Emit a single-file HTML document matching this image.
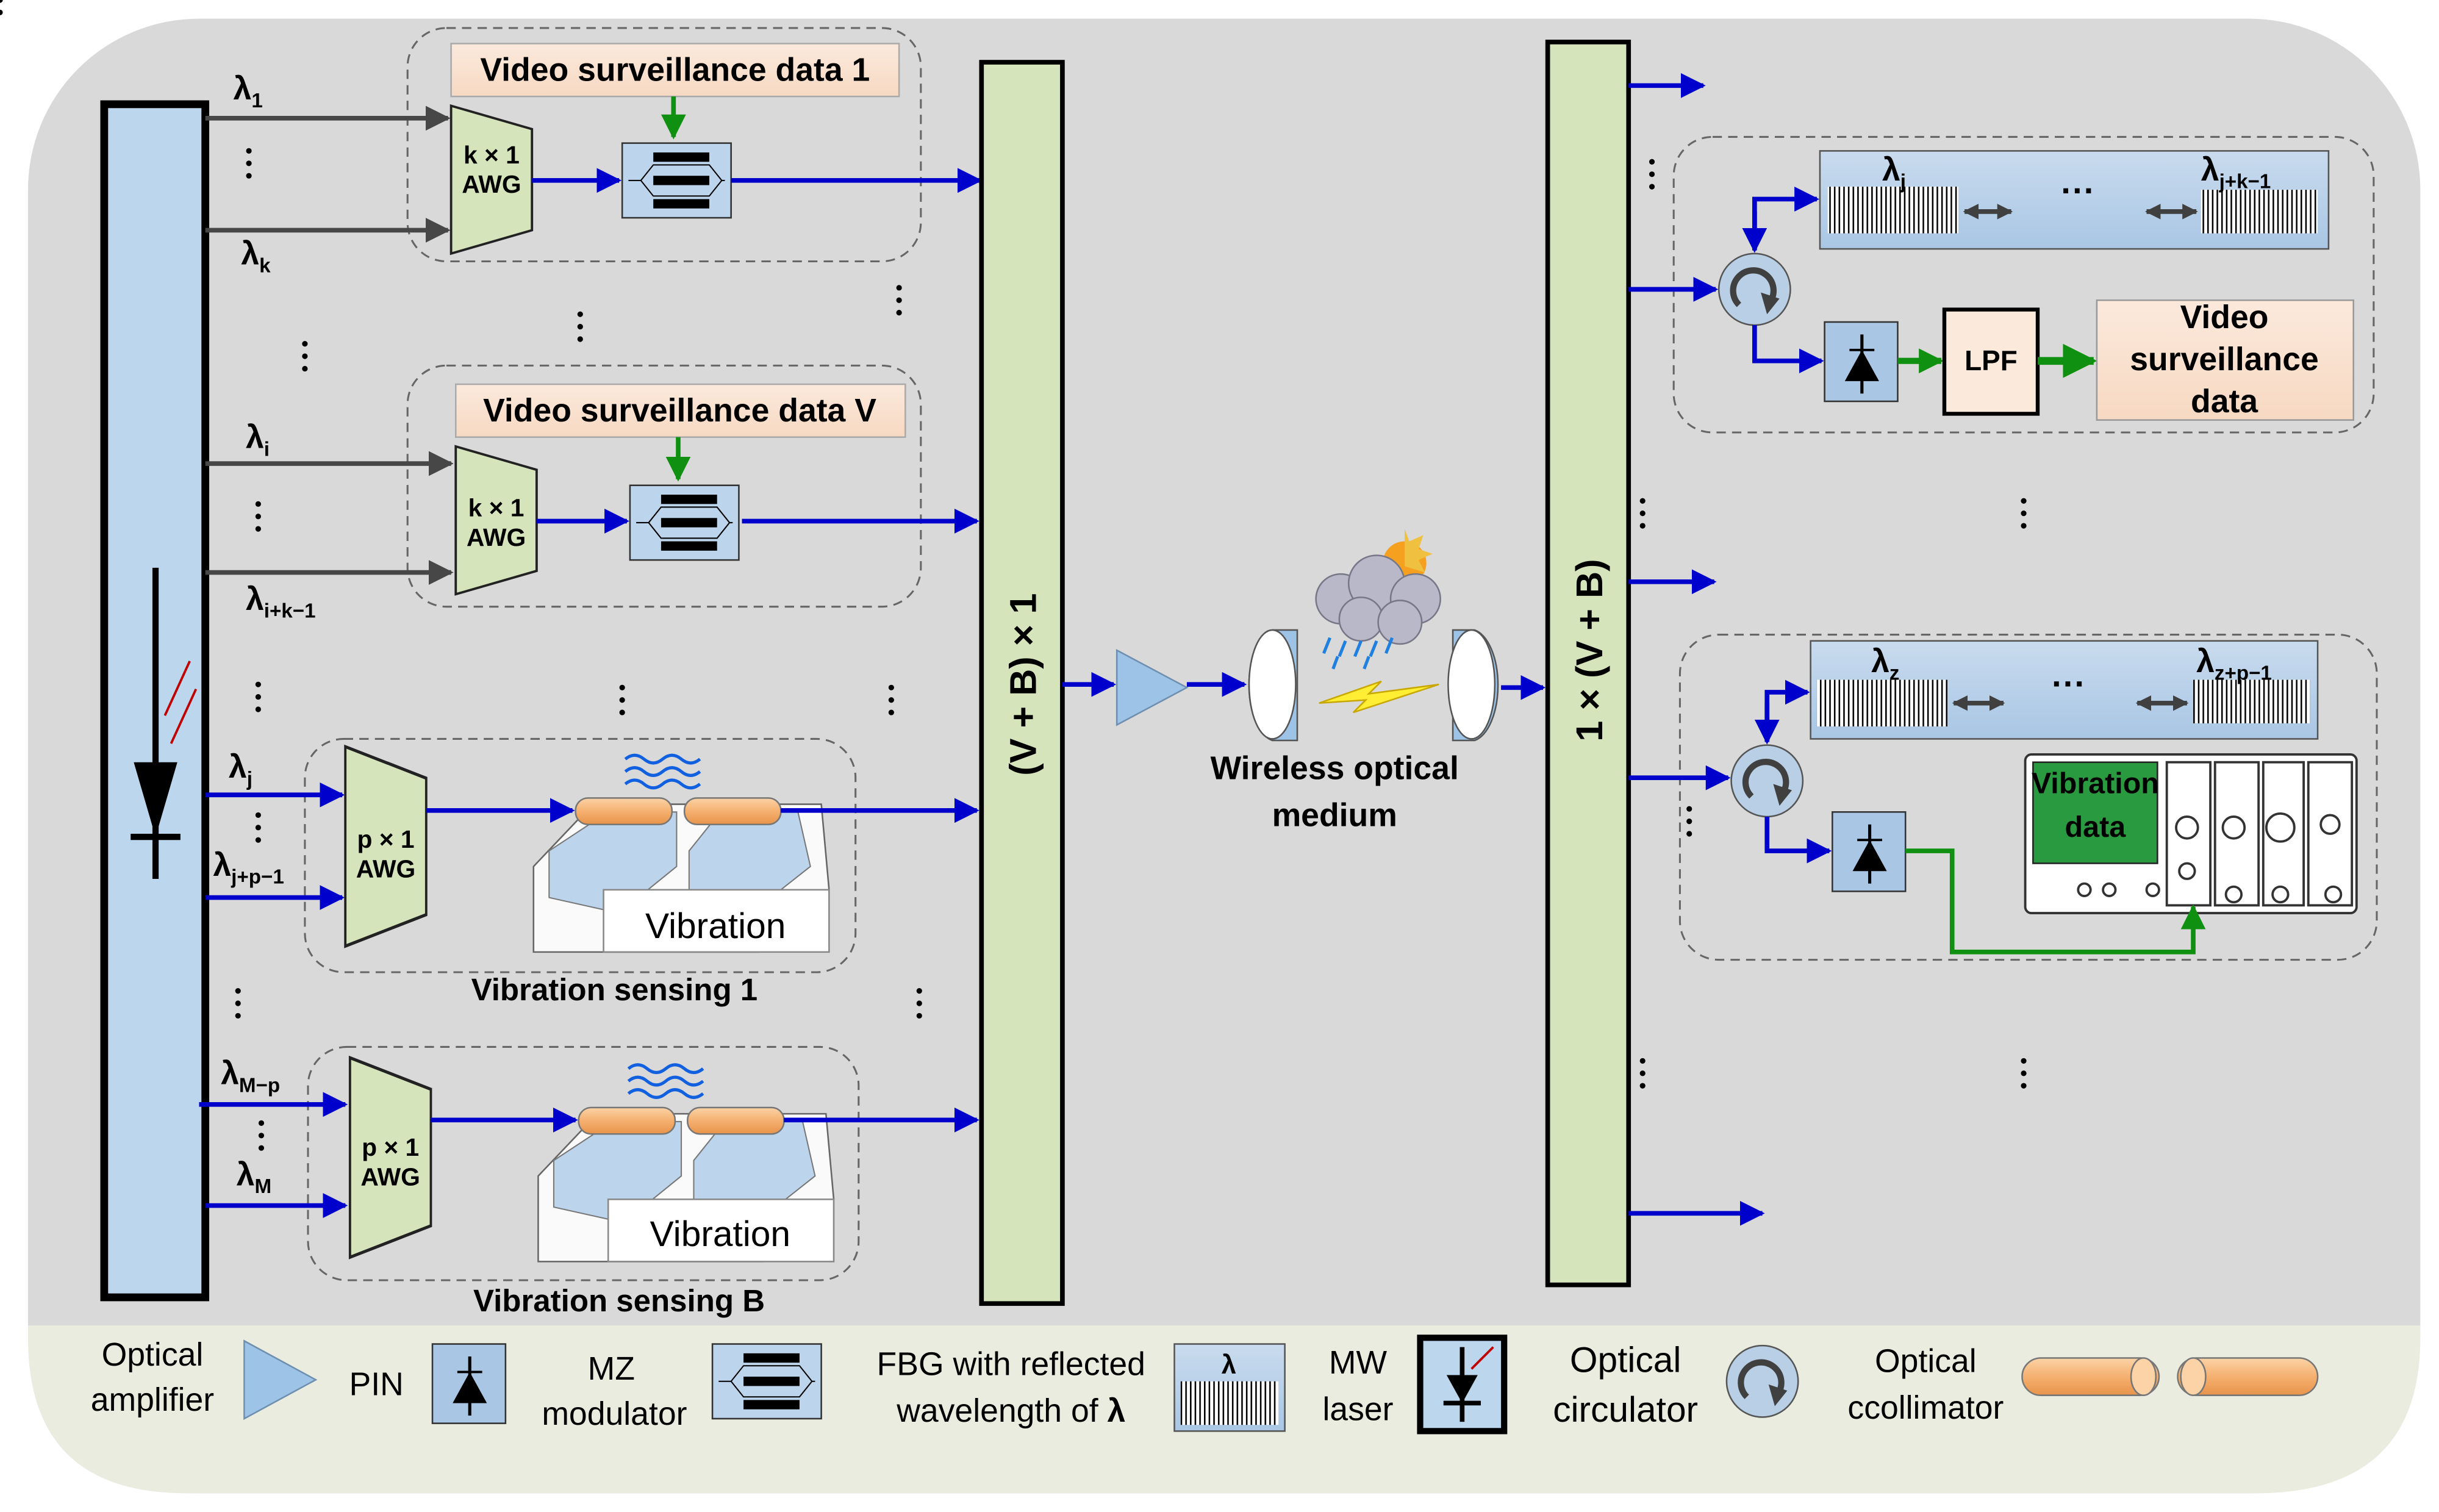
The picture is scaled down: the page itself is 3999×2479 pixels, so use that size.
<!DOCTYPE html>
<html><head><meta charset="utf-8"><style>
html,body{margin:0;padding:0;background:#fff;}
svg{display:block;}
text{font-family:"Liberation Sans",sans-serif;}
</style></head><body>
<svg width="3999" height="2479" viewBox="0 0 1568 972" xmlns="http://www.w3.org/2000/svg">
<defs>
<marker id="abb" viewBox="0 0 10 10" refX="9" refY="5" markerWidth="16" markerHeight="16" orient="auto" markerUnits="userSpaceOnUse"><path d="M0,0L10,5L0,10z" fill="#0000cc"/></marker>
<marker id="ag" viewBox="0 0 10 10" refX="9" refY="5" markerWidth="16" markerHeight="16" orient="auto" markerUnits="userSpaceOnUse"><path d="M0,0L10,5L0,10z" fill="#474747"/></marker>
<marker id="ad" viewBox="0 0 10 10" refX="9" refY="5" markerWidth="10" markerHeight="12" orient="auto-start-reverse" markerUnits="userSpaceOnUse"><path d="M0,0L10,5L0,10z" fill="#404040"/></marker>
<marker id="agr" viewBox="0 0 10 10" refX="9" refY="5" markerWidth="16" markerHeight="16" orient="auto" markerUnits="userSpaceOnUse"><path d="M0,0L10,5L0,10z" fill="#109010"/></marker>
<marker id="agr2" viewBox="0 0 10 10" refX="9" refY="5" markerWidth="22" markerHeight="22" orient="auto" markerUnits="userSpaceOnUse"><path d="M0,0L10,5L0,10z" fill="#109010"/></marker>
<pattern id="hatch" width="3" height="10" patternUnits="userSpaceOnUse"><rect width="3" height="10" fill="#fff"/><rect width="1" height="10" fill="#000"/></pattern>
<linearGradient id="fbg" x1="0" y1="0" x2="0" y2="1"><stop offset="0" stop-color="#c9dbee"/><stop offset="1" stop-color="#a9c6e4"/></linearGradient>
<linearGradient id="pk" x1="0" y1="0" x2="0" y2="1"><stop offset="0" stop-color="#fbe9dc"/><stop offset="1" stop-color="#f7d9c2"/></linearGradient>
<linearGradient id="col" x1="0" y1="0" x2="0" y2="1"><stop offset="0" stop-color="#fbd3a6"/><stop offset="0.5" stop-color="#f5b070"/><stop offset="1" stop-color="#e8944a"/></linearGradient>
<g id="mz"><rect x="0" y="0" width="70" height="48" fill="#bcd4ec" stroke="#333" stroke-width="1"/><rect x="20" y="6" width="36" height="6" fill="#000"/><rect x="20" y="21" width="36" height="6" fill="#000"/><rect x="20" y="36" width="36" height="6" fill="#000"/><path d="M4,24L12,24L20,14L56,14L64,24L66,24M12,24L20,34L56,34L64,24" fill="none" stroke="#000" stroke-width="0.8"/></g>
<g id="pin"><rect x="0" y="0" width="47" height="51" fill="#a9c6e4" stroke="#333" stroke-width="1"/><line x1="24" y1="8" x2="24" y2="46" stroke="#000" stroke-width="2"/><line x1="16" y1="18" x2="32" y2="18" stroke="#000" stroke-width="1.5"/><path d="M13,38L35,38L24,18z" fill="#000"/></g>
<g id="circ"><circle cx="0" cy="0" r="23" fill="#b8cfe6" stroke="#555" stroke-width="1"/><path d="M-10,10A13,13 0 1 1 10,8" fill="none" stroke="#404040" stroke-width="4"/><path d="M4,2L16,6L8,16z" fill="#404040"/></g>
<g id="awg"><polygon points="0,0 52,15 52,80 0,95" fill="#d6e4bc" stroke="#222" stroke-width="1.5"/></g>
<g id="vib">
<polygon points="0,40 38,0 185,0 190,55 145,95 0,95" fill="#fafafa" stroke="#666" stroke-width="1"/>
<polygon points="10,30 48,5 92,5 92,40 55,70 10,60" fill="#bcd4ec" stroke="#777" stroke-width="0.8"/>
<polygon points="100,30 120,5 170,5 178,40 140,70 100,60" fill="#bcd4ec" stroke="#777" stroke-width="0.8"/>
<rect x="45" y="55" width="145" height="40" fill="#fff" stroke="#888" stroke-width="1"/>
</g>
</defs>

<rect x="18" y="12" width="1538" height="948" rx="110" fill="#d9d9d9"/>
<path d="M18,852L1556,852L1556,860Q1556,960 1450,960L120,960Q18,960 18,860z" fill="#e9ecdf"/>

<rect x="67" y="67" width="65" height="767" fill="#bcd6ee" stroke="#000" stroke-width="5"/>
<line x1="100" y1="365" x2="100" y2="565" stroke="#000" stroke-width="4"/>
<path d="M86,490L114,490L100,538z" fill="#000"/>
<line x1="84" y1="538" x2="116" y2="538" stroke="#000" stroke-width="4"/>
<path d="M106,460L122,425M110,478L126,443" stroke="#c00000" stroke-width="1.5"/>

<g fill="none" stroke="#666" stroke-width="1.2" stroke-dasharray="6,4">
<rect x="262" y="18" width="330" height="150" rx="25"/>
<rect x="262" y="235" width="330" height="155" rx="25"/>
<rect x="196" y="475" width="354" height="150" rx="25"/>
<rect x="198" y="673" width="354" height="150" rx="25"/>
<rect x="1076" y="88" width="450" height="190" rx="25"/>
<rect x="1080" y="408" width="448" height="209" rx="25"/>
</g>

<rect x="290" y="28" width="288" height="34" fill="url(#pk)" stroke="#aaa"/>
<text x="434" y="52" font-size="21" font-weight="bold" text-anchor="middle">Video surveillance data 1</text>
<line x1="433" y1="62" x2="433" y2="88" stroke="#109010" stroke-width="3" marker-end="url(#agr)"/>
<line x1="132" y1="76" x2="288" y2="76" stroke="#474747" stroke-width="3" marker-end="url(#ag)"/>
<line x1="132" y1="148" x2="288" y2="148" stroke="#474747" stroke-width="3" marker-end="url(#ag)"/>
<use href="#awg" x="290" y="68"/>
<text x="316" y="105" font-size="16" font-weight="bold" text-anchor="middle">k × 1</text>
<text x="316" y="124" font-size="16" font-weight="bold" text-anchor="middle">AWG</text>
<line x1="342" y1="116" x2="398" y2="116" stroke="#0000cc" stroke-width="3" marker-end="url(#abb)"/>
<use href="#mz" x="400" y="92"/>
<line x1="470" y1="116" x2="630" y2="116" stroke="#0000cc" stroke-width="3" marker-end="url(#abb)"/>
<text x="150" y="64" font-size="21" font-weight="bold">λ<tspan font-size="13" dy="5">1</tspan></text>
<text x="155" y="170" font-size="21" font-weight="bold">λ<tspan font-size="13" dy="5">k</tspan></text>

<rect x="293" y="247" width="289" height="34" fill="url(#pk)" stroke="#aaa"/>
<text x="437" y="271" font-size="21" font-weight="bold" text-anchor="middle">Video surveillance data V</text>
<line x1="436" y1="281" x2="436" y2="308" stroke="#109010" stroke-width="3" marker-end="url(#agr)"/>
<line x1="132" y1="298" x2="290" y2="298" stroke="#474747" stroke-width="3" marker-end="url(#ag)"/>
<line x1="132" y1="368" x2="290" y2="368" stroke="#474747" stroke-width="3" marker-end="url(#ag)"/>
<use href="#awg" x="293" y="287"/>
<text x="319" y="332" font-size="16" font-weight="bold" text-anchor="middle">k × 1</text>
<text x="319" y="351" font-size="16" font-weight="bold" text-anchor="middle">AWG</text>
<line x1="345" y1="335" x2="403" y2="335" stroke="#0000cc" stroke-width="3" marker-end="url(#abb)"/>
<use href="#mz" x="405" y="312"/>
<line x1="477" y1="335" x2="628" y2="335" stroke="#0000cc" stroke-width="3" marker-end="url(#abb)"/>
<text x="158" y="288" font-size="21" font-weight="bold">λ<tspan font-size="13" dy="5">i</tspan></text>
<text x="158" y="392" font-size="21" font-weight="bold">λ<tspan font-size="13" dy="5">i+k−1</tspan></text>

<line x1="132" y1="511" x2="220" y2="511" stroke="#0000cc" stroke-width="3" marker-end="url(#abb)"/>
<line x1="132" y1="577" x2="220" y2="577" stroke="#0000cc" stroke-width="3" marker-end="url(#abb)"/>
<use href="#awg" x="222" y="480" transform="translate(222,480) scale(1,1.35) translate(-222,-480)"/>
<text x="248" y="545" font-size="16" font-weight="bold" text-anchor="middle">p × 1</text>
<text x="248" y="564" font-size="16" font-weight="bold" text-anchor="middle">AWG</text>
<use href="#vib" x="343" y="517"/>
<text x="460" y="603" font-size="23" text-anchor="middle">Vibration</text>
<line x1="274" y1="521" x2="368" y2="521" stroke="#0000cc" stroke-width="3" marker-end="url(#abb)"/>
<rect x="370" y="513" width="62" height="17" rx="8" fill="url(#col)" stroke="#777"/>
<rect x="440" y="513" width="62" height="17" rx="8" fill="url(#col)" stroke="#777"/>
<line x1="502" y1="521" x2="628" y2="521" stroke="#0000cc" stroke-width="3" marker-end="url(#abb)"/>
<path d="M402,488q6,-5 12,0t12,0t12,0t12,0M402,496q6,-5 12,0t12,0t12,0t12,0M402,504q6,-5 12,0t12,0t12,0t12,0" fill="none" stroke="#1060e0" stroke-width="2"/>
<text x="395" y="643" font-size="20" font-weight="bold" text-anchor="middle">Vibration sensing 1</text>
<text x="147" y="500" font-size="21" font-weight="bold">λ<tspan font-size="13" dy="5">j</tspan></text>
<text x="137" y="563" font-size="21" font-weight="bold">λ<tspan font-size="13" dy="5">j+p−1</tspan></text>

<line x1="128" y1="710" x2="222" y2="710" stroke="#0000cc" stroke-width="3" marker-end="url(#abb)"/>
<line x1="132" y1="775" x2="222" y2="775" stroke="#0000cc" stroke-width="3" marker-end="url(#abb)"/>
<use href="#awg" x="225" y="680" transform="translate(225,680) scale(1,1.35) translate(-225,-680)"/>
<text x="251" y="743" font-size="16" font-weight="bold" text-anchor="middle">p × 1</text>
<text x="251" y="762" font-size="16" font-weight="bold" text-anchor="middle">AWG</text>
<use href="#vib" x="346" y="716"/>
<text x="463" y="801" font-size="23" text-anchor="middle">Vibration</text>
<line x1="277" y1="720" x2="370" y2="720" stroke="#0000cc" stroke-width="3" marker-end="url(#abb)"/>
<rect x="372" y="712" width="62" height="17" rx="8" fill="url(#col)" stroke="#777"/>
<rect x="442" y="712" width="62" height="17" rx="8" fill="url(#col)" stroke="#777"/>
<line x1="504" y1="720" x2="628" y2="720" stroke="#0000cc" stroke-width="3" marker-end="url(#abb)"/>
<path d="M404,687q6,-5 12,0t12,0t12,0t12,0M404,695q6,-5 12,0t12,0t12,0t12,0M404,703q6,-5 12,0t12,0t12,0t12,0" fill="none" stroke="#1060e0" stroke-width="2"/>
<text x="398" y="843" font-size="20" font-weight="bold" text-anchor="middle">Vibration sensing B</text>
<text x="142" y="697" font-size="21" font-weight="bold">λ<tspan font-size="13" dy="5">M−p</tspan></text>
<text x="152" y="762" font-size="21" font-weight="bold">λ<tspan font-size="13" dy="5">M</tspan></text>

<g fill="#000">
<g id="vd"><circle cx="0" cy="-8" r="1.8"/><circle cx="0" cy="0" r="1.8"/><circle cx="0" cy="8" r="1.8"/></g>
<use href="#vd" x="160" y="105"/><use href="#vd" x="196" y="229"/><use href="#vd" x="373" y="210"/><use href="#vd" x="578" y="193"/>
<use href="#vd" x="166" y="332"/><use href="#vd" x="166" y="448"/><use href="#vd" x="400" y="450"/><use href="#vd" x="573" y="450"/>
<use href="#vd" x="166" y="532"/><use href="#vd" x="153" y="645"/><use href="#vd" x="591" y="645"/><use href="#vd" x="168" y="730"/>
<use href="#vd" x="1062" y="112"/><use href="#vd" x="1056" y="330"/><use href="#vd" x="1301" y="330"/><use href="#vd" x="1086" y="528"/>
<use href="#vd" x="1056" y="690"/><use href="#vd" x="1301" y="690"/>
</g>

<rect x="631" y="40" width="52" height="798" fill="#d6e4bc" stroke="#000" stroke-width="3"/>
<text transform="translate(666,440) rotate(-90)" font-size="24" font-weight="bold" text-anchor="middle">(V + B) × 1</text>
<rect x="995" y="27" width="52" height="799" fill="#d6e4bc" stroke="#000" stroke-width="3"/>
<text transform="translate(1030,418) rotate(-90)" font-size="24" font-weight="bold" text-anchor="middle">1 × (V + B)</text>

<line x1="683" y1="440" x2="716" y2="440" stroke="#0000cc" stroke-width="3" marker-end="url(#abb)"/>
<polygon points="718,418 718,466 763,442" fill="#9dc3e6" stroke="#6f8fb0"/>
<line x1="763" y1="440" x2="800" y2="440" stroke="#0000cc" stroke-width="3" marker-end="url(#abb)"/>
<path d="M818,405A18,36 0 0 0 818,476L834,476L834,405z" fill="#9dc3e6" stroke="#555"/>
<ellipse cx="818" cy="440" rx="15" ry="35" fill="#fff" stroke="#555"/>
<path d="M948,405A18,36 0 0 1 948,476L934,476L934,405z" fill="#9dc3e6" stroke="#555"/>
<ellipse cx="946" cy="440" rx="15" ry="35" fill="#fff" stroke="#555"/>
<polygon points="848,452 888,438 880,446 925,440 870,458 878,450" fill="#ffee33" stroke="#c8a800"/>
<circle cx="903" cy="362" r="14" fill="#f6a020"/>
<path d="M903,340L906,348L915,344L912,353L921,356L912,360L916,368L903,364z" fill="#f0c040"/>
<g fill="#b8b8c8" stroke="#778"><circle cx="862" cy="385" r="16"/><circle cx="885" cy="375" r="18"/><circle cx="910" cy="385" r="16"/><circle cx="875" cy="398" r="14"/><circle cx="900" cy="400" r="14"/></g>
<path d="M855,410l-4,10M865,412l-4,10M875,412l-4,10M885,412l-4,10M895,410l-4,10M860,422l-3,8M880,422l-3,8" stroke="#2080e0" stroke-width="2"/>
<line x1="965" y1="442" x2="992" y2="442" stroke="#0000cc" stroke-width="3" marker-end="url(#abb)"/>
<text x="858" y="501" font-size="21" font-weight="bold" text-anchor="middle">Wireless optical</text>
<text x="858" y="531" font-size="21" font-weight="bold" text-anchor="middle">medium</text>

<g stroke="#0000cc" stroke-width="3">
<line x1="1047" y1="55" x2="1095" y2="55" marker-end="url(#abb)"/>
<line x1="1047" y1="186" x2="1103" y2="186" marker-end="url(#abb)"/>
<line x1="1047" y1="374" x2="1102" y2="374" marker-end="url(#abb)"/>
<line x1="1047" y1="500" x2="1111" y2="500" marker-end="url(#abb)"/>
<line x1="1047" y1="780" x2="1133" y2="780" marker-end="url(#abb)"/>
</g>

<rect x="1170" y="97" width="327" height="63" fill="url(#fbg)" stroke="#555"/>
<rect x="1175" y="120" width="84" height="30" fill="url(#hatch)"/>
<rect x="1415" y="122" width="75" height="28" fill="url(#hatch)"/>
<text x="1210" y="116" font-size="21" font-weight="bold">λ<tspan font-size="13" dy="5">j</tspan></text>
<text x="1415" y="116" font-size="21" font-weight="bold">λ<tspan font-size="13" dy="5">j+k−1</tspan></text>
<text x="1336" y="130" font-size="22" font-weight="bold" text-anchor="middle">···</text>
<line x1="1263" y1="136" x2="1293" y2="136" stroke="#404040" stroke-width="3" marker-start="url(#ad)" marker-end="url(#ad)"/>
<line x1="1380" y1="136" x2="1412" y2="136" stroke="#404040" stroke-width="3" marker-start="url(#ad)" marker-end="url(#ad)"/>
<use href="#circ" x="1128" y="186"/>
<path d="M1128,160L1128,128L1168,128" fill="none" stroke="#0000cc" stroke-width="3" marker-end="url(#abb)"/>
<line x1="1128" y1="136" x2="1128" y2="161" stroke="#0000cc" stroke-width="3" marker-end="url(#abb)"/>
<path d="M1128,209L1128,232L1171,232" fill="none" stroke="#0000cc" stroke-width="3" marker-end="url(#abb)"/>
<use href="#pin" x="1173" y="207"/>
<line x1="1220" y1="232" x2="1248" y2="232" stroke="#109010" stroke-width="4" marker-end="url(#agr)"/>
<rect x="1250" y="199" width="60" height="67" fill="#fbe9dc" stroke="#000" stroke-width="2.5"/>
<text x="1280" y="238" font-size="18" font-weight="bold" text-anchor="middle">LPF</text>
<line x1="1310" y1="232" x2="1346" y2="232" stroke="#109010" stroke-width="5" marker-end="url(#agr2)"/>
<rect x="1348" y="193" width="165" height="77" fill="url(#pk)" stroke="#999"/>
<text x="1430" y="211" font-size="21" font-weight="bold" text-anchor="middle">Video</text>
<text x="1430" y="238" font-size="21" font-weight="bold" text-anchor="middle">surveillance</text>
<text x="1430" y="265" font-size="21" font-weight="bold" text-anchor="middle">data</text>

<rect x="1164" y="412" width="326" height="63" fill="url(#fbg)" stroke="#555"/>
<rect x="1168" y="437" width="84" height="30" fill="url(#hatch)"/>
<rect x="1410" y="437" width="75" height="28" fill="url(#hatch)"/>
<text x="1203" y="432" font-size="21" font-weight="bold">λ<tspan font-size="13" dy="5">z</tspan></text>
<text x="1412" y="432" font-size="21" font-weight="bold">λ<tspan font-size="13" dy="5">z+p−1</tspan></text>
<text x="1330" y="447" font-size="22" font-weight="bold" text-anchor="middle">···</text>
<line x1="1256" y1="452" x2="1288" y2="452" stroke="#404040" stroke-width="3" marker-start="url(#ad)" marker-end="url(#ad)"/>
<line x1="1374" y1="452" x2="1406" y2="452" stroke="#404040" stroke-width="3" marker-start="url(#ad)" marker-end="url(#ad)"/>
<use href="#circ" x="1136" y="502"/>
<path d="M1136,476L1136,445L1162,445" fill="none" stroke="#0000cc" stroke-width="3" marker-end="url(#abb)"/>
<line x1="1136" y1="452" x2="1136" y2="477" stroke="#0000cc" stroke-width="3" marker-end="url(#abb)"/>
<path d="M1136,525L1136,547L1176,547" fill="none" stroke="#0000cc" stroke-width="3" marker-end="url(#abb)"/>
<use href="#pin" x="1178" y="522"/>
<rect x="1302" y="485" width="213" height="102" rx="4" fill="#fff" stroke="#333" stroke-width="1.5"/>
<rect x="1307" y="490" width="80" height="65" fill="#2a9a40" stroke="#222"/>
<text x="1347" y="510" font-size="19" font-weight="bold" text-anchor="middle">Vibration</text>
<text x="1347" y="538" font-size="19" font-weight="bold" text-anchor="middle">data</text>
<g fill="none" stroke="#333" stroke-width="1.5">
<rect x="1393" y="490" width="28" height="92"/><rect x="1424" y="490" width="28" height="92"/><rect x="1455" y="490" width="26" height="92"/><rect x="1484" y="490" width="28" height="92"/>
<circle cx="1406" cy="532" r="7"/><circle cx="1436" cy="532" r="7"/><circle cx="1466" cy="532" r="9"/><circle cx="1498" cy="530" r="6"/>
<circle cx="1406" cy="560" r="5"/><circle cx="1436" cy="575" r="5"/><circle cx="1466" cy="575" r="5"/><circle cx="1500" cy="575" r="5"/>
<circle cx="1340" cy="572" r="4"/><circle cx="1356" cy="572" r="4"/><circle cx="1384" cy="572" r="4"/>
</g>
<path d="M1225,547L1255,547L1255,612L1410,612L1410,583" fill="none" stroke="#109010" stroke-width="3" marker-end="url(#agr)"/>

<text x="98" y="878" font-size="21" text-anchor="middle">Optical</text>
<text x="98" y="907" font-size="21" text-anchor="middle">amplifier</text>
<polygon points="157,862 157,912 203,887" fill="#9dc3e6" stroke="#6f8fb0"/>
<text x="242" y="897" font-size="21" text-anchor="middle">PIN</text>
<use href="#pin" x="278" y="864"/>
<text x="393" y="887" font-size="21" text-anchor="middle">MZ</text>
<text x="395" y="916" font-size="21" text-anchor="middle">modulator</text>
<use href="#mz" x="458" y="864"/>
<text x="650" y="884" font-size="21" text-anchor="middle">FBG with reflected</text>
<text x="650" y="914" font-size="21" text-anchor="middle">wavelength of <tspan font-weight="bold">λ</tspan></text>
<rect x="755" y="864" width="71" height="56" fill="url(#fbg)" stroke="#555"/>
<rect x="759" y="888" width="63" height="28" fill="url(#hatch)"/>
<text x="790" y="883" font-size="17" font-weight="bold" text-anchor="middle">λ</text>
<text x="873" y="883" font-size="21" text-anchor="middle">MW</text>
<text x="873" y="913" font-size="21" text-anchor="middle">laser</text>
<rect x="913" y="860" width="54" height="60" fill="#bcd6ee" stroke="#000" stroke-width="4"/>
<line x1="940" y1="866" x2="940" y2="914" stroke="#000" stroke-width="3"/>
<path d="M930,884L950,884L940,902z" fill="#000"/>
<line x1="928" y1="902" x2="952" y2="902" stroke="#000" stroke-width="3"/>
<path d="M946,880L960,866" stroke="#c00000" stroke-width="1.5"/>
<text x="1045" y="882" font-size="23" text-anchor="middle">Optical</text>
<text x="1045" y="914" font-size="23" text-anchor="middle">circulator</text>
<use href="#circ" x="1133" y="888"/>
<text x="1238" y="882" font-size="21" text-anchor="middle">Optical</text>
<text x="1238" y="912" font-size="21" text-anchor="middle">ccollimator</text>
<rect x="1300" y="873" width="88" height="24" rx="12" fill="url(#col)" stroke="#777"/>
<ellipse cx="1378" cy="885" rx="8" ry="12" fill="#fbd3a6" stroke="#777"/>
<rect x="1400" y="873" width="90" height="24" rx="12" fill="url(#col)" stroke="#777"/>
<ellipse cx="1410" cy="885" rx="8" ry="12" fill="#fbd3a6" stroke="#777"/>
</svg>
</body></html>
